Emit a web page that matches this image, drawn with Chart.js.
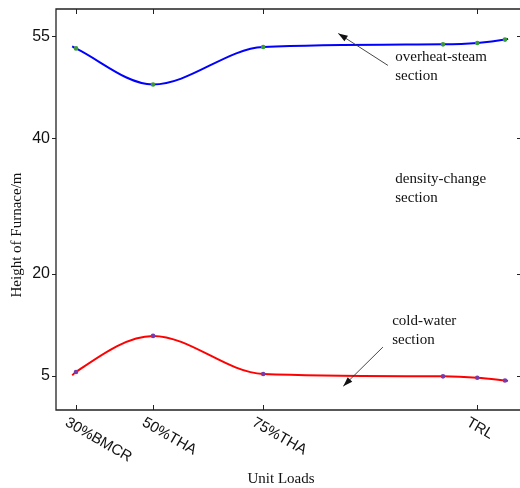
<!DOCTYPE html>
<html>
<head>
<meta charset="utf-8">
<script src="https://cdn.jsdelivr.net/npm/chart.js"></script>
<style>
  html, body { margin: 0; padding: 0; background: #fff; }
</style>
</head>
<body>
<canvas id="chart" width="520" height="488"></canvas>
<script>
// unit load position along the x axis (load %), and furnace height in m
const loadPos = [29, 30, 50, 78.6, 125.3, 134.2, 141.4, 142.2];
const overheatHeight = [53.5, 53.2, 47.9, 53.4, 53.8, 54.0, 54.5, 54.6];
const coldWaterHeight = [5.1, 5.6, 10.9, 5.3, 4.95, 4.75, 4.35, 4.3];

const xTickPos = [30, 50, 78.6, 134.2];
const xTickLabels = ['30%BMCR', '50%THA', '75%THA', 'TRL'];
const yTicks = [5, 20, 40, 55];

const serif = '"Liberation Serif", "Times New Roman", serif';
const sans = '"Liberation Sans", Arial, sans-serif';

function pts(ys) {
    return loadPos.map((x, i) => ({ x: x, y: ys[i] }));
}

// no marker on the two ends of each trace
function markerSize(c) {
    return (c.dataIndex === 0 || c.dataIndex === loadPos.length - 1) ? 0 : 1.3;
}

function noPad(s) {
    s.paddingTop = 0;
    s.paddingBottom = 0;
    s.paddingLeft = 0;
    s.paddingRight = 0;
}

const notes = {
    id: 'notes',
    afterDatasetsDraw(chart) {
        const ctx = chart.ctx;
        const a = chart.chartArea;
        const xs = chart.scales.x;
        const ys = chart.scales.y;
        ctx.save();
        ctx.strokeStyle = '#222';
        ctx.lineWidth = 1.3;
        // frame (right side falls just outside the picture)
        ctx.beginPath();
        ctx.moveTo(a.right + 1, a.top);
        ctx.lineTo(a.left, a.top);
        ctx.lineTo(a.left, a.bottom);
        ctx.lineTo(a.right + 1, a.bottom);
        ctx.stroke();
        ctx.lineWidth = 1;
        // x ticks, pointing in
        xTickPos.forEach(v => {
            const px = Math.round(xs.getPixelForValue(v)) + 0.5;
            ctx.beginPath();
            ctx.moveTo(px, a.top); ctx.lineTo(px, a.top + 5);
            ctx.moveTo(px, a.bottom); ctx.lineTo(px, a.bottom - 5);
            ctx.stroke();
        });
        // y ticks: outside on the left, inside on the right
        yTicks.forEach(v => {
            const py = Math.round(ys.getPixelForValue(v)) + 0.5;
            ctx.beginPath();
            ctx.moveTo(a.left - 4, py); ctx.lineTo(a.left, py);
            ctx.moveTo(a.right, py); ctx.lineTo(a.right - 3, py);
            ctx.stroke();
        });

        // rotated x tick labels
        ctx.fillStyle = '#111';
        ctx.font = '15px ' + sans;
        ctx.textAlign = 'left';
        ctx.textBaseline = 'top';
        xTickPos.forEach((v, i) => {
            const px = xs.getPixelForValue(v);
            ctx.save();
            ctx.translate(px - 6, a.bottom + 5);
            ctx.rotate(Math.PI / 6);
            ctx.fillText(xTickLabels[i], 0, 0);
            ctx.restore();
        });

        // axis titles
        ctx.font = '15px ' + serif;
        ctx.textBaseline = 'alphabetic';
        ctx.textAlign = 'center';
        ctx.fillText('Unit Loads', 281, 483);
        ctx.save();
        ctx.translate(21, 235);
        ctx.rotate(-Math.PI / 2);
        ctx.fillText('Height of Furnace/m', 0, 0);
        ctx.restore();

        // section notes
        ctx.textAlign = 'left';
        const note = (lines, xv, yv) => {
            const px = xs.getPixelForValue(xv);
            const py = ys.getPixelForValue(yv);
            lines.forEach((t, i) => ctx.fillText(t, px, py + i * 19));
        };
        note(['overheat-steam', 'section'], 112.9, 51.3);
        note(['density-change', 'section'], 112.9, 33.4);
        note(['cold-water', 'section'], 112.1, 12.5);

        const arrow = (x0, y0, x1, y1) => {
            const p0 = [xs.getPixelForValue(x0), ys.getPixelForValue(y0)];
            const p1 = [xs.getPixelForValue(x1), ys.getPixelForValue(y1)];
            const ang = Math.atan2(p1[1] - p0[1], p1[0] - p0[0]);
            ctx.strokeStyle = '#333';
            ctx.fillStyle = '#111';
            ctx.lineWidth = 0.9;
            ctx.beginPath();
            ctx.moveTo(p0[0], p0[1]);
            ctx.lineTo(p1[0], p1[1]);
            ctx.stroke();
            ctx.beginPath();
            ctx.moveTo(p1[0], p1[1]);
            ctx.lineTo(p1[0] - 10 * Math.cos(ang - 0.33), p1[1] - 10 * Math.sin(ang - 0.33));
            ctx.lineTo(p1[0] - 10 * Math.cos(ang + 0.33), p1[1] - 10 * Math.sin(ang + 0.33));
            ctx.closePath();
            ctx.fill();
        };
        arrow(111.0, 50.7, 98.1, 55.4);
        arrow(109.7, 9.26, 99.4, 3.5);
        ctx.restore();
    }
};

new Chart(document.getElementById('chart'), {
    type: 'line',
    data: {
        datasets: [
            {
                label: 'overheat-steam section',
                data: pts(overheatHeight),
                borderColor: '#0000ff',
                borderWidth: 2,
                pointRadius: markerSize,
                pointBackgroundColor: '#3c9a3c',
                pointBorderColor: '#3c9a3c',
                cubicInterpolationMode: 'monotone',
                fill: false
            },
            {
                label: 'cold-water section',
                data: pts(coldWaterHeight),
                borderColor: '#ff0000',
                borderWidth: 2,
                pointRadius: markerSize,
                pointBackgroundColor: '#7a3aa8',
                pointBorderColor: '#7a3aa8',
                cubicInterpolationMode: 'monotone',
                fill: false
            }
        ]
    },
    options: {
        responsive: false,
        devicePixelRatio: 1,
        animation: false,
        layout: { autoPadding: false, padding: { top: 9, right: 0, left: 0, bottom: 0 } },
        plugins: { legend: { display: false }, tooltip: { enabled: false } },
        scales: {
            x: {
                type: 'linear',
                min: 24.8,
                max: 145.3,
                grid: { display: false, drawTicks: false, tickLength: 0 },
                border: { display: false },
                ticks: { display: false },
                afterFit: s => { s.height = 78; noPad(s); }
            },
            y: {
                min: 0,
                max: 59,
                grid: { display: false, drawTicks: false, tickLength: 0 },
                border: { display: false },
                afterBuildTicks: s => { s.ticks = yTicks.map(v => ({ value: v })); },
                ticks: {
                    color: '#111',
                    padding: 6,
                    font: { family: sans, size: 16 }
                },
                afterFit: s => { s.width = 56; noPad(s); }
            }
        }
    },
    plugins: [notes]
});
</script>
</body>
</html>
